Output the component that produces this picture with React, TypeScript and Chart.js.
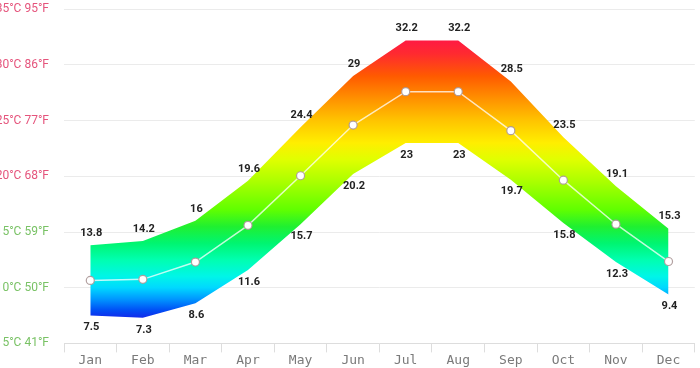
import React, { useEffect, useRef } from "react";
import { Chart, registerables } from "chart.js";

Chart.register(...registerables);

const months = ["Jan", "Feb", "Mar", "Apr", "May", "Jun", "Jul", "Aug", "Sep", "Oct", "Nov", "Dec"];
const maxTemps = [13.8, 14.2, 16, 19.6, 24.4, 29, 32.2, 32.2, 28.5, 23.5, 19.1, 15.3];
const minTemps = [7.5, 7.3, 8.6, 11.6, 15.7, 20.2, 23, 23, 19.7, 15.8, 12.3, 9.4];
const meanTemps = [10.65, 10.75, 12.3, 15.6, 20.05, 24.6, 27.6, 27.6, 24.1, 19.65, 15.7, 12.35];
const yTicks = [5, 10, 15, 20, 25, 30, 35];

const gradientStops: [number, string][] = [
  [7, "#1a1ae6"],
  [8, "#0050f5"],
  [9, "#0098ff"],
  [10, "#00d8ff"],
  [11, "#00f5e8"],
  [12.5, "#00ffb0"],
  [14, "#00f570"],
  [15.5, "#20f030"],
  [17, "#60ff00"],
  [19.5, "#aaff00"],
  [21.5, "#e0ff00"],
  [23, "#ffee00"],
  [25, "#ffc400"],
  [27, "#ff9000"],
  [29, "#ff5a00"],
  [31, "#ff2a30"],
  [33, "#ff1050"],
];

const valueLabels = {
  id: "valueLabels",
  afterDatasetsDraw(chart: any) {
    const ctx = chart.ctx;
    const maxMeta = chart.getDatasetMeta(1);
    const minMeta = chart.getDatasetMeta(2);
    ctx.save();
    ctx.font = "bold 11px Roboto, 'Noto Sans', sans-serif";
    ctx.fillStyle = "#222";
    ctx.textAlign = "center";
    ctx.textBaseline = "middle";
    maxMeta.data.forEach((pt: any, i: number) => {
      ctx.fillText(String(maxTemps[i]), pt.x + 1, pt.y - 12);
    });
    minMeta.data.forEach((pt: any, i: number) => {
      ctx.fillText(String(minTemps[i]), pt.x + 1, pt.y + 12);
    });
    ctx.restore();
  },
};

export default function App() {
  const canvasRef = useRef<HTMLCanvasElement | null>(null);

  useEffect(() => {
    if (!canvasRef.current) return;
    const fillGradient = (c: any) => {
      const chart = c.chart;
      const { chartArea, scales } = chart;
      if (!chartArea || !scales.y) return "rgba(0,255,0,0.5)";
      const y0 = scales.y.getPixelForValue(5);
      const y1 = scales.y.getPixelForValue(35);
      const g = chart.ctx.createLinearGradient(0, y0, 0, y1);
      gradientStops.forEach(([t, col]) => {
        g.addColorStop(Math.min(1, Math.max(0, (t - 5) / 30)), col);
      });
      return g;
    };

    const chart = new Chart(canvasRef.current, {
      type: "line",
      data: {
        labels: months,
        datasets: [
          {
            label: "Mean",
            data: meanTemps,
            borderColor: "rgba(255,255,255,0.75)",
            borderWidth: 1.5,
            pointRadius: 4,
            pointBackgroundColor: "#ffffff",
            pointBorderColor: "rgba(170,150,150,0.9)",
            pointBorderWidth: 1.2,
            fill: false,
            tension: 0,
          },
          {
            label: "Max",
            data: maxTemps,
            borderWidth: 0,
            borderColor: "rgba(0,0,0,0)",
            pointRadius: 0,
            backgroundColor: fillGradient,
            fill: "+1",
            tension: 0,
          },
          {
            label: "Min",
            data: minTemps,
            borderWidth: 0,
            borderColor: "rgba(0,0,0,0)",
            pointRadius: 0,
            fill: false,
            tension: 0,
          },
        ],
      },
      options: {
        animation: false,
        responsive: true,
        maintainAspectRatio: false,
        layout: { padding: { top: 0, right: 5, bottom: 0, left: 0 } },
        plugins: {
          legend: { display: false },
          tooltip: { enabled: false },
        },
        scales: {
          x: {
            offset: true,
            grid: {
              offset: true,
              drawOnChartArea: false,
              drawTicks: true,
              tickLength: 9,
              color: "#dddddd",
            },
            border: { display: true, color: "#dddddd" },
            ticks: {
              padding: 0,
              color: "#7a7a7a",
              font: { family: "'DejaVu Sans Mono', monospace", size: 13 },
            },
          },
          y: {
            min: 5,
            max: 35,
            afterBuildTicks: (scale: any) => {
              scale.ticks = yTicks.map((v) => ({ value: v }));
            },
            afterFit: (scale: any) => {
              scale.width = 64;
            },
            grid: { drawTicks: true, tickLength: 13, tickColor: "rgba(0,0,0,0)", color: "#ebebeb" },
            border: { display: false },
            ticks: {
              padding: 2,
              font: { family: "Roboto, 'Noto Sans', sans-serif", size: 12 },
              color: (c: any) => (c.tick && c.tick.value >= 20 ? "#e5547c" : "#79c265"),
              callback: (v: any) => `${v}°C ${Math.round((Number(v) * 9) / 5 + 32)}°F`,
            },
          },
        },
      },
      plugins: [valueLabels],
    });
    return () => chart.destroy();
  }, []);

  return (
    <div style={{ position: "fixed", left: 0, top: 0, width: 700, height: 368, overflow: "hidden", background: "#fff" }}>
      <canvas ref={canvasRef} />
    </div>
  );
}
